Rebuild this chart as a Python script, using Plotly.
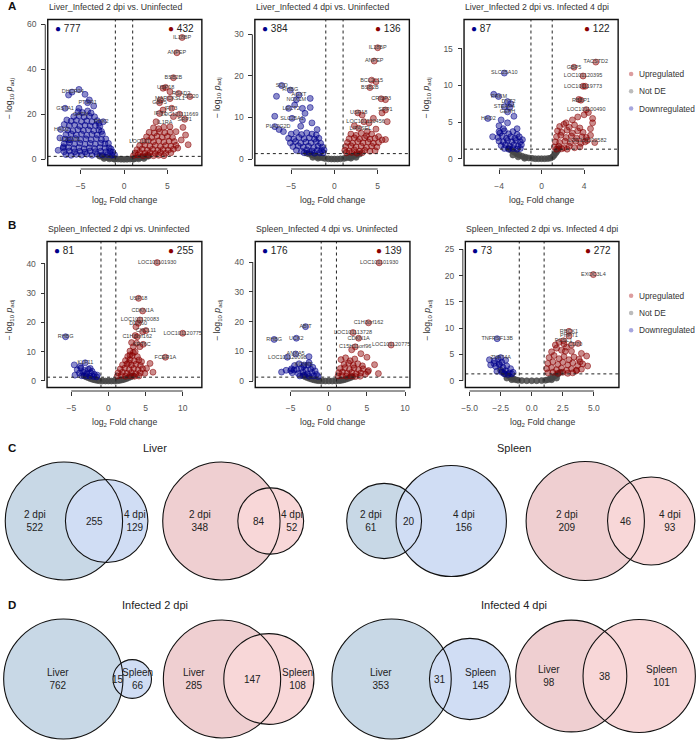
import math
import plotly.graph_objects as go

W, H = 696, 740
FONT = "Liberation Sans, Arial, sans-serif"

# ---------------- DATA: volcano plots (log2FC, -log10 padj) ----------------
liver_2v0_down = [(-5.2,31.1),(-6.0,29.9),(-6.4,28.6),(-4.5,28.9),(-4.0,26.4),(-4.2,25.2),(-3.5,23.7),(-6.8,22.7),(-5.2,22.7),
    (-7.3,13.3),(-6.6,17.5),(-6.4,8.6),(-7.0,5.6),(-2.4,16.7),(-2.9,16.0),(-7.4,9.5),(-6.9,15.5),(-7.6,4.0),
    (-5.3,21.2),(-4.8,20.8),(-4.2,21.5),(-3.8,20.6),(-5.8,19.0),(-5.2,19.4),(-4.6,18.8),(-4.0,19.2),(-3.4,18.9),
    (-6.1,17.0),(-5.5,17.3),(-4.9,16.8),(-4.3,17.1),(-3.7,16.7),(-3.1,17.2),
    (-6.3,15.0),(-5.7,15.3),(-5.1,14.7),(-4.5,15.2),(-3.9,14.8),(-3.3,15.1),(-2.8,14.6),
    (-6.5,13.0),(-5.9,12.6),(-5.3,13.2),(-4.7,12.8),(-4.1,13.1),(-3.5,12.7),(-2.9,13.0),(-2.6,12.4),
    (-6.7,11.0),(-6.1,11.3),(-5.5,10.8),(-4.9,11.2),(-4.3,10.7),(-3.7,11.1),(-3.1,10.8),(-2.5,11.2),
    (-6.8,9.0),(-6.2,8.7),(-5.6,9.2),(-5.0,8.8),(-4.4,9.1),(-3.8,8.7),(-3.2,9.2),(-2.6,8.8),(-2.1,9.0),
    (-6.9,7.0),(-6.3,7.3),(-5.7,6.8),(-5.1,7.2),(-4.5,6.7),(-3.9,7.1),(-3.3,6.8),(-2.7,7.2),(-2.2,6.9),(-1.8,7.1),
    (-7.0,5.0),(-6.4,5.3),(-5.8,4.8),(-5.2,5.2),(-4.6,4.7),(-4.0,5.1),(-3.4,4.8),(-2.8,5.2),(-2.2,4.9),(-1.7,5.1),(-1.5,4.6),
    (-6.9,3.4),(-6.3,3.7),(-5.7,3.3),(-5.1,3.6),(-4.5,3.2),(-3.9,3.7),(-3.3,3.4),(-2.7,3.6),(-2.1,3.3),(-1.6,3.5),(-1.3,3.2),
    (-6.7,2.1),(-6.1,1.8),(-5.5,2.2),(-4.9,1.9),(-4.3,2.3),(-3.7,1.8),(-3.1,2.2),(-2.5,1.9),(-1.9,2.1),(-1.4,1.8),(-1.1,2.0)]
liver_2v0_up = [(6.7,54.2),(6.1,47.4),(5.7,36.3),(4.5,31.6),(4.8,32.0),(5.3,30.1),(6.3,29.3),(7.6,27.9),(5.3,27.0),(4.2,26.4),
    (4.1,25.2),(5.5,22.7),(4.5,21.9),(4.1,20.4),(6.4,20.0),(7.0,17.8),(5.7,19.0),(6.8,14.2),(6.0,12.3),(7.1,10.8),(6.6,8.6),
    (5.3,14.5),(3.7,16.7),(7.4,6.5),(6.2,5.0),
    (3.4,14.0),(4.0,13.6),(4.6,14.3),(2.9,12.0),(3.5,11.7),(4.1,12.3),(4.7,11.8),(5.3,12.1),
    (2.6,10.0),(3.2,9.7),(3.8,10.3),(4.4,9.8),(5.0,10.2),(5.6,9.7),
    (2.2,8.0),(2.8,8.3),(3.4,7.8),(4.0,8.2),(4.6,7.7),(5.2,8.1),(5.8,7.9),
    (1.8,6.0),(2.4,6.3),(3.0,5.8),(3.6,6.2),(4.2,5.7),(4.8,6.1),(5.4,5.8),(6.0,6.2),
    (1.5,4.3),(2.1,4.6),(2.7,4.1),(3.3,4.5),(3.9,4.0),(4.5,4.4),(5.1,4.1),(5.7,4.5),
    (1.3,2.8),(1.8,3.1),(2.4,2.7),(3.0,3.0),(3.6,2.6),(4.2,3.0),(4.8,2.7),(5.4,2.9),
    (1.1,1.7),(1.6,1.9),(2.2,1.6),(2.8,1.8),(3.4,1.6),(4.0,1.8),(4.6,1.6)]
liver_2v0_ns = [(-2.8,1.4),(-2.5,1.2),(-2.2,1.0),(-1.9,0.8),(-1.6,0.6),(-1.3,0.4),(-1.0,0.25),(-0.7,0.1),(-0.35,0.03),(0.0,0.0),
    (0.35,0.03),(0.7,0.1),(1.0,0.25),(1.3,0.4),(1.6,0.6),(1.9,0.8),(2.2,1.0),(2.5,1.2),(2.8,1.4),(-2.3,0.4),(-1.7,0.2),
    (-1.1,0.05),(1.1,0.05),(1.7,0.2),(2.3,0.4)]
liver_2v0_genes = [("IL18BP",6.7,54.2),("ANPEP",6.1,47.4),("BSB2B",5.7,36.3),("USP18",4.8,32.0),("RSAD2",6.6,29.3),
    ("ISG20",7.7,27.9),("MARCKSL1",5.3,27.0),("GBP5",4.1,25.2),("IFIT3",5.4,22.7),("IFIT1",4.2,20.4),
    ("LOC101111669",6.4,20.0),("SRP1",7.0,17.8),("IL1RA",4.7,16.3),("DHCR24",-5.9,29.9),("PTGR1",-4.2,25.2),
    ("GSTA1",-6.8,22.7),("GATM",-5.0,20.0),("PDK2",-2.6,16.7),("HAO2",-7.2,13.3),("LOC101",-6.2,8.6),("LOC101",1.8,8.0)]

liver_4v0_down = [(-6.1,17.7),(-5.1,16.6),(-6.7,15.1),(-4.1,15.4),(-2.8,14.6),(-4.4,14.3),(-5.3,12.2),(-3.7,12.2),(-2.8,12.4),
    (-6.9,10.3),(-4.9,9.8),(-3.7,9.4),(-2.6,8.7),(-6.9,7.8),(-6.4,7.1),(-5.9,6.6),(-3.9,7.9),(-2.0,7.1),(-4.6,13.0),(-3.4,11.0),
    (-5.0,6.0),(-4.4,6.4),(-3.8,5.9),(-3.2,6.3),(-2.6,6.0),(-2.1,5.8),
    (-5.3,5.0),(-4.7,4.8),(-4.1,5.2),(-3.5,4.9),(-2.9,5.1),(-2.3,4.8),(-1.8,5.0),
    (-5.1,3.9),(-4.5,4.2),(-3.9,3.8),(-3.3,4.1),(-2.7,3.9),(-2.1,4.2),(-1.6,3.8),
    (-4.8,3.0),(-4.2,3.2),(-3.6,2.9),(-3.0,3.1),(-2.4,2.8),(-1.9,3.1),(-1.4,2.9),
    (-4.4,2.1),(-3.8,1.9),(-3.2,2.2),(-2.6,1.9),(-2.0,2.1),(-1.5,2.0),(-1.2,2.2),
    (-3.5,1.5),(-2.9,1.6),(-2.3,1.4),(-1.7,1.5),(-1.3,1.5)]
liver_4v0_up = [(5.0,26.8),(4.6,23.6),(4.3,19.0),(4.8,18.6),(4.1,17.2),(5.4,14.5),(5.9,14.3),(5.9,11.8),(5.5,11.1),(2.7,11.1),
    (3.2,10.6),(4.5,9.8),(6.1,9.0),(3.4,9.0),(4.0,8.7),(2.8,7.4),(3.8,6.6),(5.1,5.4),(5.5,4.6),(5.9,4.7),(4.8,7.2),(2.3,8.0),
    (1.9,6.0),(2.5,5.7),(3.1,6.2),(3.7,5.6),(4.3,6.0),
    (1.7,4.9),(2.3,5.1),(2.9,4.8),(3.5,5.1),(4.1,4.8),(4.7,5.0),
    (1.5,4.0),(2.1,3.8),(2.7,4.2),(3.3,3.9),(3.9,4.1),(4.5,3.8),(5.1,4.0),
    (1.3,3.0),(1.9,3.2),(2.5,2.9),(3.1,3.1),(3.7,2.8),(4.3,3.1),(4.9,2.9),
    (1.2,2.1),(1.7,1.9),(2.3,2.2),(2.9,1.9),(3.5,2.1),(4.1,1.9),(4.7,2.0),
    (1.4,1.5),(2.0,1.6),(2.6,1.4),(3.2,1.5)]
liver_4v0_ns = [(-3.2,1.4),(-2.9,1.2),(-2.6,1.0),(-2.3,0.8),(-2.0,0.6),(-1.7,0.45),(-1.4,0.3),(-1.1,0.15),(-0.7,0.05),(-0.35,0.0),
    (0.0,0.0),(0.35,0.0),(0.7,0.05),(1.1,0.15),(1.4,0.3),(1.7,0.45),(2.0,0.6),(2.3,0.8),(2.6,1.0),(2.9,1.2),
    (-2.5,0.4),(-1.9,0.2),(1.9,0.2),(2.5,0.4)]
liver_4v0_genes = [("IL18BP",5.0,26.8),("ANPEP",4.6,23.6),("BCL2L15",4.3,19.0),("BSB2B",4.1,17.2),("CRISP3",5.4,14.5),
    ("SRP1",5.9,11.8),("USP18",2.8,11.1),("LOC101120456",3.6,9.0),("LIPASEL",3.0,7.4),("SOD",-6.1,17.7),("RHBG",-5.1,16.6),
    ("AGXT",-4.1,15.4),("NOX1M",-4.4,14.3),("LECT2",-5.0,12.2),("SLC25A1",-4.9,9.8),("PLA2G2D",-6.5,7.8)]

liver_2v4_down = [(-3.5,11.7),(-4.5,8.8),(-4.05,8.5),(-3.2,7.8),(-2.9,7.5),(-3.5,7.1),(-3.0,7.0),(-3.2,6.4),(-5.05,5.5),
    (-3.8,5.3),(-3.2,4.9),(-4.0,4.5),(-3.6,4.1),(-4.0,3.7),(-2.3,4.1),(-4.6,3.0),(-2.6,5.8),
    (-3.9,3.5),(-3.5,3.8),(-3.1,3.4),(-2.7,3.7),(-2.3,3.3),
    (-4.1,2.9),(-3.7,3.1),(-3.3,2.8),(-2.9,3.0),(-2.5,2.8),(-2.1,3.0),
    (-4.0,2.4),(-3.6,2.3),(-3.2,2.5),(-2.8,2.3),(-2.4,2.5),(-2.0,2.3),(-1.8,2.6),
    (-3.8,1.8),(-3.4,1.9),(-3.0,1.7),(-2.6,1.9),(-2.2,1.7),(-1.9,1.9),
    (-3.5,1.4),(-3.1,1.3),(-2.7,1.4),(-2.3,1.3),(-2.0,1.4)]
liver_2v4_up = [(5.1,13.2),(3.05,12.5),(3.9,11.3),(3.9,9.9),(4.1,9.9),(3.7,8.0),(3.5,8.1),(4.2,6.7),(4.8,5.5),(4.0,6.0),
    (3.4,5.7),(2.9,5.3),(2.3,4.9),(4.6,4.1),(4.8,4.9),(4.3,2.5),(4.6,3.2),(4.4,6.3),(5.0,2.2),
    (1.7,4.4),(2.1,4.7),(2.6,4.3),(3.1,4.6),(3.6,4.2),
    (1.5,3.8),(1.9,3.6),(2.4,3.9),(2.9,3.5),(3.4,3.8),(3.9,3.6),
    (1.4,3.0),(1.8,3.2),(2.3,2.9),(2.8,3.1),(3.3,2.8),(3.8,3.0),(4.2,2.9),
    (1.3,2.3),(1.7,2.2),(2.2,2.4),(2.7,2.2),(3.2,2.4),(3.7,2.1),(4.1,2.3),
    (1.2,1.6),(1.6,1.7),(2.1,1.5),(2.6,1.7),(3.1,1.5),(3.6,1.6),
    (1.4,1.3),(1.9,1.35),(2.4,1.3)]
liver_2v4_ns = [(-3.1,1.4),(-2.85,1.15),(-2.6,0.9),(-2.35,0.7),(-2.1,0.5),(-1.8,0.32),(-1.5,0.2),(-1.2,0.1),(-0.9,0.05),
    (-0.6,0.0),(-0.3,0.0),(0.0,0.0),(0.3,0.0),(0.6,0.02),(0.85,0.08),(1.05,0.25),(1.2,0.5),(1.35,0.8),(1.5,1.1),(1.6,1.35),
    (-2.7,0.5),(-2.2,0.25),(-1.6,0.05)]
liver_2v4_genes = [("TACSTD2",5.1,13.2),("GBP5",3.05,12.5),("LOC101120395",3.9,11.3),("LOC101119773",3.9,9.9),
    ("RBBP1",3.7,8.0),("LOC101100490",4.2,6.7),("LOC101102582",4.3,2.5),("SLC25A10",-3.5,11.7),("PRKM",-4.0,8.5),
    ("DYT2",-3.1,7.8),("STEAP4",-3.5,7.1),("GEPH",-3.2,6.4),("HAO2",-5.0,5.5)]

spleen_2v0_down = [(-5.76,15.1),(-3.12,6.2),(-4.6,5.5),(-2.45,4.3),(-3.8,5.0),
    (-4.2,3.8),(-3.7,4.4),(-3.2,3.6),(-2.7,4.0),(-2.2,3.3),(-3.9,2.7),(-3.4,3.0),(-2.9,2.5),(-2.4,2.8),(-1.9,2.3),
    (-1.5,2.0),(-3.6,1.8),(-3.0,1.7),(-2.5,1.6),(-2.0,1.5),(-1.6,1.4),(-4.5,2.0)]
spleen_2v0_up = [(6.56,40.4),(4.06,28.2),(4.6,23.9),(4.24,20.8),(4.02,19.7),(3.7,18.5),(5.05,17.2),(4.6,16.8),(10.0,16.3),
    (3.88,15.1),(3.6,15.5),(3.12,13.1),(3.79,12.9),(4.68,12.5),(3.35,11.7),(4.24,11.7),(7.67,8.1),(2.9,8.9),(3.35,9.7),
    (4.46,6.6),(5.13,4.3),(2.72,6.2),(5.6,6.0),(6.0,3.0),
    (2.9,10.2),(3.6,10.0),(2.6,8.4),(3.2,8.7),(3.9,8.3),(2.3,7.0),(2.9,7.3),(3.5,6.9),(4.1,7.2),
    (1.9,5.5),(2.5,5.8),(3.1,5.4),(3.7,5.7),(4.3,5.3),(1.6,4.1),(2.2,4.4),(2.8,3.9),(3.4,4.3),(4.0,3.8),(4.6,4.2),
    (1.3,2.8),(1.9,3.0),(2.5,2.6),(3.1,2.9),(3.7,2.5),(4.3,2.8),(4.9,2.6),
    (1.2,1.7),(1.7,1.9),(2.3,1.6),(2.9,1.8),(3.5,1.6),(4.1,1.7)]
spleen_2v0_ns = [(-3.3,1.8),(-3.0,1.4),(-2.7,1.1),(-2.4,0.8),(-2.1,0.55),(-1.8,0.35),(-1.5,0.2),(-1.2,0.1),(-0.8,0.03),
    (-0.4,0.0),(0.0,0.0),(0.4,0.0),(0.8,0.03),(1.2,0.1),(1.5,0.2),(1.8,0.35),(2.1,0.55),(2.4,0.8),(2.7,1.1),(3.0,1.4),(3.3,1.8)]
spleen_2v0_genes = [("LOC101101930",6.56,40.4),("USP18",4.06,28.2),("CDKN1A",4.6,23.9),("LOC101120083",4.24,20.8),
    ("DDX60",4.0,19.5),("CXCL11",5.05,17.2),("LOC101120775",10.0,16.3),("C1H3orf162",3.88,15.1),("KRT6C",4.5,12.5),
    ("FCER1A",7.67,8.1),("RHBG",-5.76,15.1),("KLF11",-3.1,6.2)]

spleen_4v0_down = [(-3.05,18.3),(-7.17,14.0),(-4.26,14.4),(-5.44,8.0),(-4.35,9.1),(-2.6,8.2),(-3.26,5.4),(-4.56,3.7),
    (-5.0,3.5),(-2.6,6.2),(-6.2,3.0),
    (-4.5,5.2),(-3.9,5.8),(-3.3,4.9),(-2.7,5.4),(-2.1,4.6),(-4.2,3.9),(-3.6,4.3),(-3.0,3.6),(-2.4,4.0),(-1.8,3.4),
    (-4.8,2.8),(-4.0,2.5),(-3.4,3.0),(-2.8,2.4),(-2.2,2.8),(-1.6,2.2),(-3.8,1.7),(-3.2,1.9),(-2.6,1.6),(-2.0,1.7),
    (-1.4,1.5),(-5.6,3.6),(-4.9,4.1)]
spleen_4v0_up = [(6.6,39.8),(5.2,19.6),(3.17,16.3),(3.91,14.4),(3.47,11.5),(8.17,12.1),(3.0,10.5),(4.2,9.2),(5.0,8.0),
    (5.1,3.1),(6.0,5.5),(6.5,2.5),
    (1.6,7.2),(2.2,7.8),(2.8,6.8),(3.4,7.4),(2.0,5.6),(2.6,6.0),(3.2,5.3),(3.8,5.8),(4.4,5.1),(1.5,4.2),(2.1,4.5),
    (2.7,3.9),(3.3,4.4),(3.9,3.8),(4.5,4.1),(5.2,3.5),(1.3,2.8),(1.8,3.0),(2.4,2.6),(3.0,2.9),(3.6,2.4),(4.2,2.7),
    (4.8,2.3),(1.2,1.7),(1.7,1.8),(2.3,1.6),(2.9,1.7),(3.5,1.5),(4.1,1.6)]
spleen_4v0_ns = [(-3.4,1.8),(-3.1,1.4),(-2.8,1.1),(-2.5,0.8),(-2.2,0.55),(-1.9,0.35),(-1.6,0.2),(-1.3,0.1),(-0.9,0.03),
    (-0.45,0.0),(0.0,0.0),(0.45,0.0),(0.9,0.03),(1.3,0.1),(1.6,0.2),(1.9,0.35),(2.2,0.55),(2.5,0.8),(2.8,1.1),(3.1,1.4)]
spleen_4v0_genes = [("LOC101101930",6.6,39.8),("C1H3orf162",5.2,19.6),("LOC101113728",3.17,16.3),("CDKN1A",3.91,14.4),
    ("C15H11orf96",3.47,11.5),("LOC101120775",8.17,12.1),("ABIT",-3.05,18.3),("RHBG",-7.17,14.0),("UCK2",-4.26,14.4),
    ("LOC101120098",-5.44,8.0),("ANXA5",-4.35,9.1),("KCNK5",-3.26,5.4)]

spleen_2v4_down = [(-2.78,8.0),(-2.5,4.4),(-3.04,3.3),(-3.3,3.0),(-2.6,3.2),(-3.4,4.0),
    (-3.0,3.8),(-2.7,4.2),(-2.4,3.5),(-2.1,3.9),(-2.9,2.7),(-2.6,3.0),(-2.3,2.5),(-2.0,2.8),(-1.7,2.3),(-2.8,1.8),
    (-2.4,1.6),(-2.1,1.9),(-1.8,1.5),(-1.5,1.6),(-2.2,1.3),(-1.9,1.2),(-1.6,1.3)]
spleen_2v4_up = [(4.96,20.2),(3.0,9.4),(3.0,8.5),(2.56,7.6),(3.73,7.1),(3.2,6.8),(4.42,4.7),(3.9,3.6),(2.7,5.6),(3.6,2.0),
    (4.5,2.8),(4.0,5.2),
    (1.6,5.5),(2.0,6.2),(2.4,5.8),(2.8,6.4),(3.2,5.6),(1.4,4.4),(1.8,4.8),(2.2,4.2),(2.6,4.6),(3.0,4.0),(3.4,4.5),
    (3.8,4.1),(1.3,3.3),(1.7,3.6),(2.1,3.1),(2.5,3.5),(2.9,3.0),(3.3,3.4),(3.7,2.9),(4.1,3.2),(1.2,2.3),(1.6,2.5),
    (2.0,2.1),(2.4,2.4),(2.8,2.0),(3.2,2.3),(3.6,1.9),(4.0,2.2),(1.3,1.5),(1.7,1.6),(2.1,1.4),(2.5,1.6),(2.9,1.4),
    (3.3,1.5),(2.2,7.3),(2.6,7.0),(1.9,6.8)]
spleen_2v4_ns = [(-2.5,2.0),(-2.3,1.6),(-2.1,1.25),(-1.9,0.95),(-1.7,0.65),(-1.5,0.4),(-1.3,0.2),(-1.1,0.08),(-0.8,0.02),
    (-0.4,0.0),(0.0,0.0),(0.4,0.0),(0.8,0.02),(1.1,0.08),(1.3,0.2),(1.5,0.4),(1.7,0.65),(1.9,0.95),(2.1,1.25),(2.3,1.6),
    (-2.0,0.5),(-1.6,0.2),(1.6,0.2),(2.0,0.5)]
spleen_2v4_genes = [("EXOC3L4",4.96,20.2),("RBCK1",3.0,9.4),("PHPT1",3.0,8.5),("FOSL1",2.56,7.6),("CD70",3.5,6.9),
    ("TNFRSF13B",-2.78,8.0),("ZNF74A",-2.5,4.4)]

volcano_titles = ["Liver_Infected 2 dpi vs. Uninfected", "Liver_Infected 4 dpi vs. Uninfected",
                  "Liver_Infected 2 dpi vs. Infected 4 dpi", "Spleen_Infected 2 dpi vs. Uninfected",
                  "Spleen_Infected 4 dpi vs. Uninfected", "Spleen_Infected 2 dpi vs. Infected 4 dpi"]
n_down = [777, 384, 87, 81, 176, 73]
n_up = [432, 136, 122, 255, 139, 272]
fc_cut = 1.0
p_cut = 1.30103  # -log10(0.05)

# ---------------- DATA: Venn diagrams (only A, both, only B) ----------------
venn_time_names = ("2 dpi", "4 dpi")
venn_tissue_names = ("Liver", "Spleen")
liver_down_sets = (522, 255, 129)
liver_up_sets = (348, 84, 52)
spleen_down_sets = (61, 20, 156)
spleen_up_sets = (209, 46, 93)
d2_down_sets = (762, 15, 66)
d2_up_sets = (285, 147, 108)
d4_down_sets = (353, 31, 145)
d4_up_sets = (98, 38, 101)

# ---------------- STYLE / LAYOUT ----------------
panels = [
    dict(down=liver_2v0_down, up=liver_2v0_up, ns=liver_2v0_ns, genes=liver_2v0_genes,
         box=(44, 19.5, 199, 165.5), xr=(-8.8, 8.98), yr=(-2.76, 62.2), xt=[-5, 0, 5], yt=[0, 20, 40, 60]),
    dict(down=liver_4v0_down, up=liver_4v0_up, ns=liver_4v0_ns, genes=liver_4v0_genes,
         box=(252.3, 19.5, 407.7, 165.5), xr=(-9.2, 8.66), yr=(-1.56, 33.6), xt=[-5, 0, 5], yt=[0, 10, 20, 30]),
    dict(down=liver_2v4_down, up=liver_2v4_up, ns=liver_2v4_ns, genes=liver_2v4_genes,
         box=(462.7, 19.5, 617.7, 165.5), xr=(-7.29, 7.2), yr=(-0.93, 19.02), xt=[-4, 0, 4], yt=[0, 5, 10, 15]),
    dict(down=spleen_2v0_down, up=spleen_2v0_up, ns=spleen_2v0_ns, genes=spleen_2v0_genes,
         box=(43.3, 241.5, 199, 387.5), xr=(-8.26, 12.58), yr=(-2.22, 47.6), xt=[-5, 0, 5, 10], yt=[0, 10, 20, 30, 40]),
    dict(down=spleen_4v0_down, up=spleen_4v0_up, ns=spleen_4v0_ns, genes=spleen_4v0_genes,
         box=(252.7, 241.5, 408.3, 387.5), xr=(-9.65, 10.64), yr=(-2.19, 46.97), xt=[-5, 0, 5, 10], yt=[0, 10, 20, 30, 40]),
    dict(down=spleen_2v4_down, up=spleen_2v4_up, ns=spleen_2v4_ns, genes=spleen_2v4_genes,
         box=(464, 241.5, 618.5, 387.5), xr=(-5.34, 7.02), yr=(-1.29, 26.5), xt=[-5, -2.5, 0, 2.5, 5],
         yt=[0, 5, 10, 15, 20, 25], xfmt=".1f"),
]

UP_C = "rgba(139,0,0,0.45)"
UP_L = "rgba(139,0,0,0.75)"
DN_C = "rgba(0,0,139,0.45)"
DN_L = "rgba(0,0,139,0.75)"
NS_C = "rgba(70,70,70,0.85)"
MSIZE = 6.0

fig = go.Figure()
shapes, annots = [], []
layout_axes = {}


def px_x(p):
    return p / W


def px_y(p):
    return 1 - p / H


for i, p in enumerate(panels):
    k = i + 1
    sx = "" if k == 1 else str(k)
    xa, ya = "x" + sx, "y" + sx
    l, t, r, b = p["box"]
    for pts, col, lcol in [(p["ns"], NS_C, NS_C), (p["down"], DN_C, DN_L), (p["up"], UP_C, UP_L)]:
        fig.add_trace(go.Scatter(x=[q[0] for q in pts], y=[q[1] for q in pts], mode="markers",
                                 marker=dict(size=MSIZE, color=col, line=dict(color=lcol, width=0.7)),
                                 xaxis=xa, yaxis=ya, showlegend=False, hoverinfo="skip"))
    fig.add_trace(go.Scatter(x=[g[1] for g in p["genes"]], y=[g[2] for g in p["genes"]], text=[g[0] for g in p["genes"]],
                             mode="text", textposition="middle center",
                             textfont=dict(size=5.5, color="#3c3c3c", family=FONT),
                             xaxis=xa, yaxis=ya, showlegend=False, hoverinfo="skip"))
    layout_axes["xaxis" + sx] = dict(domain=[px_x(l), px_x(r)], range=list(p["xr"]), anchor="free",
                                     position=px_y(b + 3.5), showline=False, showgrid=False, zeroline=False,
                                     ticks="outside", ticklen=4, tickwidth=1, tickcolor="#333",
                                     tickvals=p["xt"], tickformat=p.get("xfmt", ""), ticklabelstandoff=5,
                                     tickfont=dict(size=8.5, color="#555", family=FONT))
    layout_axes["yaxis" + sx] = dict(domain=[px_y(b), px_y(t)], range=list(p["yr"]), anchor="free",
                                     position=px_x(l - 2.5), showline=False, showgrid=False, zeroline=False,
                                     ticks="outside", ticklen=4, tickwidth=1, tickcolor="#333",
                                     tickvals=p["yt"], ticklabelstandoff=3,
                                     tickfont=dict(size=8.5, color="#555", family=FONT))
    # R-style axis lines spanning the tick range
    shapes.append(dict(type="line", xref="paper", yref=ya, x0=px_x(l - 2.5), x1=px_x(l - 2.5),
                       y0=p["yt"][0], y1=p["yt"][-1], line=dict(color="#333", width=1)))
    shapes.append(dict(type="line", xref=xa, yref="paper", x0=p["xt"][0], x1=p["xt"][-1],
                       y0=px_y(b + 3.5), y1=px_y(b + 3.5), line=dict(color="#333", width=1)))
    # threshold lines
    for xv in (-fc_cut, fc_cut):
        shapes.append(dict(type="line", xref=xa, yref=ya + " domain", x0=xv, x1=xv, y0=0, y1=1,
                           line=dict(color="#222", width=1, dash="3px,3px")))
    shapes.append(dict(type="line", xref=xa + " domain", yref=ya, x0=0, x1=1, y0=p_cut, y1=p_cut,
                       line=dict(color="#222", width=1, dash="3px,3px")))
    # box
    shapes.append(dict(type="rect", xref=xa + " domain", yref=ya + " domain", x0=0, x1=1, y0=0, y1=1,
                       line=dict(color="#111", width=1.4)))
    # title
    annots.append(dict(text=volcano_titles[i], x=px_x(l - 1), y=px_y(t - 12.5), xref="paper", yref="paper",
                       xanchor="left", yanchor="middle", showarrow=False,
                       font=dict(size=8.7, color="#333", family=FONT)))
    # counts
    annots.append(dict(text="<span style='color:#00008b'>●</span> " + str(n_down[i]),
                       x=px_x(l + 5), y=px_y(t + 9), xref="paper", yref="paper", xanchor="left", yanchor="middle",
                       showarrow=False, font=dict(size=10, color="#222", family=FONT)))
    annots.append(dict(text="<span style='color:#8b0000'>●</span> " + str(n_up[i]),
                       x=px_x(r - 6), y=px_y(t + 9), xref="paper", yref="paper", xanchor="right", yanchor="middle",
                       showarrow=False, font=dict(size=10, color="#222", family=FONT)))
    # axis titles
    annots.append(dict(text="log<sub>2</sub> Fold change", x=px_x((l + r) / 2), y=px_y(b + 35),
                       xref="paper", yref="paper", xanchor="center", yanchor="middle", showarrow=False,
                       font=dict(size=8.7, color="#333", family=FONT)))
    annots.append(dict(text="− log<sub>10</sub> <i>p</i><sub>adj</sub>", x=px_x(l - 38), y=px_y((t + b) / 2 + 6),
                       xref="paper", yref="paper", xanchor="center", yanchor="middle", showarrow=False,
                       textangle=-90, font=dict(size=8.7, color="#333", family=FONT)))

# legends (drawn next to the third panel of each row)
for row_y in (74, 295.7):
    for j, (lab, col) in enumerate([("Upregulated", "#dc9d9f"), ("Not DE", "#bcbcbc"), ("Downregulated", "#a6a6de")]):
        cy = row_y + j * 17.3
        shapes.append(dict(type="circle", xref="paper", yref="paper", x0=px_x(628.5), x1=px_x(633),
                           y0=px_y(cy + 2.25), y1=px_y(cy - 2.25), fillcolor=col, line=dict(width=0)))
        annots.append(dict(text=lab, x=px_x(637), y=px_y(cy), xref="paper", yref="paper", xanchor="left",
                           yanchor="middle", showarrow=False, font=dict(size=8.3, color="#333", family=FONT)))


# ---------------- Venn diagrams (area-proportional) ----------------
def lens_area(r1, r2, d):
    if d >= r1 + r2:
        return 0.0
    if d <= abs(r1 - r2):
        return math.pi * min(r1, r2) ** 2
    a = r1 * r1 * math.acos((d * d + r1 * r1 - r2 * r2) / (2 * d * r1))
    b = r2 * r2 * math.acos((d * d + r2 * r2 - r1 * r1) / (2 * d * r2))
    c = 0.5 * math.sqrt((-d + r1 + r2) * (d + r1 - r2) * (d - r1 + r2) * (d + r1 + r2))
    return a + b - c


def venn(sets, names, cx, cy, rmax, colA, colB):
    onlyA, both, onlyB = sets
    nA, nB = onlyA + both, onlyB + both
    s = rmax / math.sqrt(max(nA, nB))
    rA, rB = s * math.sqrt(nA), s * math.sqrt(nB)
    target = math.pi * s * s * both
    lo, hi = abs(rA - rB) + 1e-6, rA + rB
    for _ in range(80):
        mid = (lo + hi) / 2
        if lens_area(rA, rB, mid) > target:
            lo = mid
        else:
            hi = mid
    d = (lo + hi) / 2
    off = cx - ((-rA) + (d + rB)) / 2
    cA, cB = off, off + d
    for c, rr, col in ((cA, rA, colA), (cB, rB, colB)):
        shapes.append(dict(type="circle", xref="paper", yref="paper", x0=px_x(c - rr), x1=px_x(c + rr),
                           y0=px_y(cy + rr), y1=px_y(cy - rr), fillcolor=col, line=dict(width=0), layer="below"))
    for c, rr in ((cA, rA), (cB, rB)):
        shapes.append(dict(type="circle", xref="paper", yref="paper", x0=px_x(c - rr), x1=px_x(c + rr),
                           y0=px_y(cy + rr), y1=px_y(cy - rr), fillcolor="rgba(0,0,0,0)",
                           line=dict(color="#111", width=1.1), layer="below"))
    xl = ((cA - rA) + (cB - rB)) / 2
    xm = ((cB - rB) + (cA + rA)) / 2
    xr = ((cA + rA) + (cB + rB)) / 2
    for xx, txt in ((xl, f"{names[0]}<br>{onlyA}"), (xm, str(both)), (xr, f"{names[1]}<br>{onlyB}")):
        annots.append(dict(text=txt, x=px_x(xx), y=px_y(cy), xref="paper", yref="paper", xanchor="center",
                           yanchor="middle", showarrow=False, font=dict(size=10, color="#222", family=FONT)))


BL1, BL2 = "#c8d8e6", "#d0ddf4"
PK1, PK2 = "#efcfd1", "#f8d7d8"
venn(liver_down_sets, venn_time_names, 73, 521, 59, BL1, BL2)
venn(liver_up_sets, venn_time_names, 230.5, 521, 59, PK1, PK2)
venn(spleen_down_sets, venn_time_names, 425, 521, 55.5, BL1, BL2)
venn(spleen_up_sets, venn_time_names, 610, 521, 59.5, PK1, PK2)
venn(d2_down_sets, venn_tissue_names, 74, 679, 60, BL1, BL2)
venn(d2_up_sets, venn_tissue_names, 236, 679, 59, PK1, PK2)
venn(d4_down_sets, venn_tissue_names, 419.5, 679, 60, BL1, BL2)
venn(d4_up_sets, venn_tissue_names, 605, 676, 56.5, PK1, PK2)

# section titles and panel letters
for txt, x, y in (("Liver", 152, 448), ("Spleen", 513, 448), ("Infected 2 dpi", 152, 605), ("Infected 4 dpi", 513, 605)):
    annots.append(dict(text=txt, x=px_x(x), y=px_y(y), xref="paper", yref="paper", xanchor="center",
                       yanchor="middle", showarrow=False, font=dict(size=11, color="#222", family=FONT)))
for txt, y in (("A", 6), ("B", 225), ("C", 447.5), ("D", 605)):
    annots.append(dict(text="<b>" + txt + "</b>", x=px_x(2), y=px_y(y), xref="paper", yref="paper",
                       xanchor="left", yanchor="middle", showarrow=False,
                       font=dict(size=11.5, color="#111", family=FONT)))

fig.update_layout(width=W, height=H, autosize=False, margin=dict(l=0, r=0, t=0, b=0),
                  paper_bgcolor="white", plot_bgcolor="white", showlegend=False,
                  shapes=shapes, annotations=annots, font=dict(family=FONT), **layout_axes)
fig.write_html("out.html", config={"displayModeBar": False},
               post_script="document.body.style.margin='0px';document.body.style.padding='0px';"
                           "document.body.style.overflow='hidden';")
